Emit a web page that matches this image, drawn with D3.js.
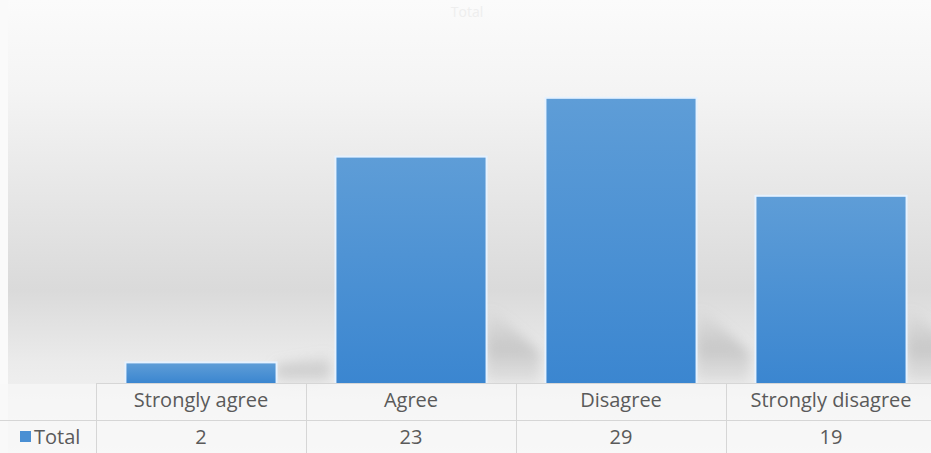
<!DOCTYPE html>
<html>
<head>
<meta charset="utf-8">
<script src="https://cdn.jsdelivr.net/npm/d3@7"></script>
<style>
  html, body { margin: 0; padding: 0; background: #ffffff; }
  svg { display: block; }
</style>
</head>
<body>
<svg id="chart" width="931" height="453"></svg>
<script>
// ---- data ----
const categories = ["Strongly agree", "Agree", "Disagree", "Strongly disagree"];
const seriesName = "Total";
const values = [2, 23, 29, 19];
const chartTitle = "Total";

// ---- layout ----
const W = 931, H = 453;
const tableLeft = 96, tableRight = 936;
const baseY = 383, headerBottom = 420;

const svg = d3.select("#chart");
const defs = svg.append("defs");

// background gradient
const bg = defs.append("linearGradient").attr("id", "bg").attr("x1", 0).attr("y1", 0).attr("x2", 0).attr("y2", 1);
bg.append("stop").attr("offset", "0%").attr("stop-color", "#fbfbfb");
bg.append("stop").attr("offset", "20%").attr("stop-color", "#f4f4f4");
bg.append("stop").attr("offset", "64%").attr("stop-color", "#dadada");
bg.append("stop").attr("offset", "80%").attr("stop-color", "#ebebeb");
bg.append("stop").attr("offset", "100%").attr("stop-color", "#f7f7f7");

const barGrad = defs.append("linearGradient").attr("id", "barGrad").attr("x1", 0).attr("y1", 0).attr("x2", 0).attr("y2", 1);
barGrad.append("stop").attr("offset", "0%").attr("stop-color", "#5e9dd7");
barGrad.append("stop").attr("offset", "100%").attr("stop-color", "#3b86d0");

const shGrad = defs.append("linearGradient").attr("id", "shGrad").attr("x1", 0).attr("y1", 0).attr("x2", 0).attr("y2", 1);
shGrad.append("stop").attr("offset", "0%").attr("stop-color", "#a0a0a0").attr("stop-opacity", 0);
shGrad.append("stop").attr("offset", "55%").attr("stop-color", "#a0a0a0").attr("stop-opacity", 0.45);
shGrad.append("stop").attr("offset", "100%").attr("stop-color", "#bdbdbd").attr("stop-opacity", 0.25);

const blur = defs.append("filter").attr("id", "blur").attr("x", "-50%").attr("y", "-50%").attr("width", "200%").attr("height", "200%");
blur.append("feGaussianBlur").attr("stdDeviation", 6);

svg.append("rect").attr("x", 0).attr("y", 0).attr("width", W).attr("height", H).attr("fill", "#fafafa");
svg.append("rect").attr("x", 8).attr("y", 0).attr("width", W - 8).attr("height", H).attr("fill", "url(#bg)");

// title (very faint, white on light)
svg.append("text")
  .attr("x", 467).attr("y", 17)
  .attr("text-anchor", "middle")
  .attr("font-family", "'Open Sans', sans-serif")
  .attr("font-size", 14)
  .attr("fill", "#eeeeee")
  .text(chartTitle);

// ---- scales ----
const x = d3.scaleBand()
  .domain(categories)
  .range([tableLeft, tableRight])
  .paddingInner(0.29)
  .paddingOuter(0.145);

const y = d3.scaleLinear().domain([0, 35]).range([baseY, 40]);

const data = categories.map((c, i) => ({ cat: c, v: values[i] }));

// shadows
svg.append("g").selectAll("path").data(data).join("path")
  .attr("d", d => {
    const r = x(d.cat) + x.bandwidth();
    const top = Math.max(y(d.v), baseY - 75);
    return `M${r},${top} L${r + 6},${top} L${r + 55},${baseY - 30} L${r + 55},${baseY} L${r},${baseY} Z`;
  })
  .attr("fill", "url(#shGrad)")
  .attr("filter", "url(#blur)");

// bar glow
svg.append("g").selectAll("rect").data(data).join("rect")
  .attr("x", d => x(d.cat) - 2)
  .attr("y", d => y(d.v) - 2)
  .attr("width", x.bandwidth() + 4)
  .attr("height", d => baseY - y(d.v) + 2)
  .attr("fill", "#e6f2ff");

// bars
svg.append("g").selectAll("rect").data(data).join("rect")
  .attr("x", d => x(d.cat))
  .attr("y", d => y(d.v))
  .attr("width", x.bandwidth())
  .attr("height", d => baseY - y(d.v))
  .attr("fill", "url(#barGrad)");

// ---- data table ----
const lineColor = "#d6d6d6";
const tbl = svg.append("g");
tbl.append("rect").attr("x", 0).attr("y", baseY + 1).attr("width", W).attr("height", H - baseY).attr("fill", "#f8f8f8").attr("opacity", 0.7);
tbl.append("line").attr("x1", tableLeft).attr("x2", W).attr("y1", baseY + 0.5).attr("y2", baseY + 0.5).attr("stroke", lineColor);
tbl.append("line").attr("x1", 0).attr("x2", W).attr("y1", headerBottom + 0.5).attr("y2", headerBottom + 0.5).attr("stroke", lineColor);

const step = x.step();
const colEdges = categories.map(c => x(c) - x.paddingInner() * step / 2);
colEdges.push(colEdges[colEdges.length - 1] + step);
tbl.selectAll("line.v").data(colEdges).join("line")
  .attr("class", "v")
  .attr("x1", d => Math.round(d) + 0.5).attr("x2", d => Math.round(d) + 0.5)
  .attr("y1", baseY).attr("y2", H)
  .attr("stroke", lineColor);

const font = "'Open Sans', sans-serif";
const txtColor = "#5a5a5a";

tbl.selectAll("text.cat").data(data).join("text")
  .attr("class", "cat")
  .attr("x", d => x(d.cat) + x.bandwidth() / 2)
  .attr("y", 407)
  .attr("text-anchor", "middle")
  .attr("font-family", font)
  .attr("font-size", 20)
  .attr("fill", txtColor)
  .text(d => d.cat);

tbl.selectAll("text.val").data(data).join("text")
  .attr("class", "val")
  .attr("x", d => x(d.cat) + x.bandwidth() / 2)
  .attr("y", 444)
  .attr("text-anchor", "middle")
  .attr("font-family", font)
  .attr("font-size", 20)
  .attr("fill", txtColor)
  .text(d => d.v);

// legend key + series name
tbl.append("rect").attr("x", 20).attr("y", 431).attr("width", 11).attr("height", 11).attr("fill", "#4a8fd3");
tbl.append("text")
  .attr("x", 34).attr("y", 444)
  .attr("font-family", font)
  .attr("font-size", 20)
  .attr("fill", txtColor)
  .text(seriesName);
</script>
</body>
</html>
